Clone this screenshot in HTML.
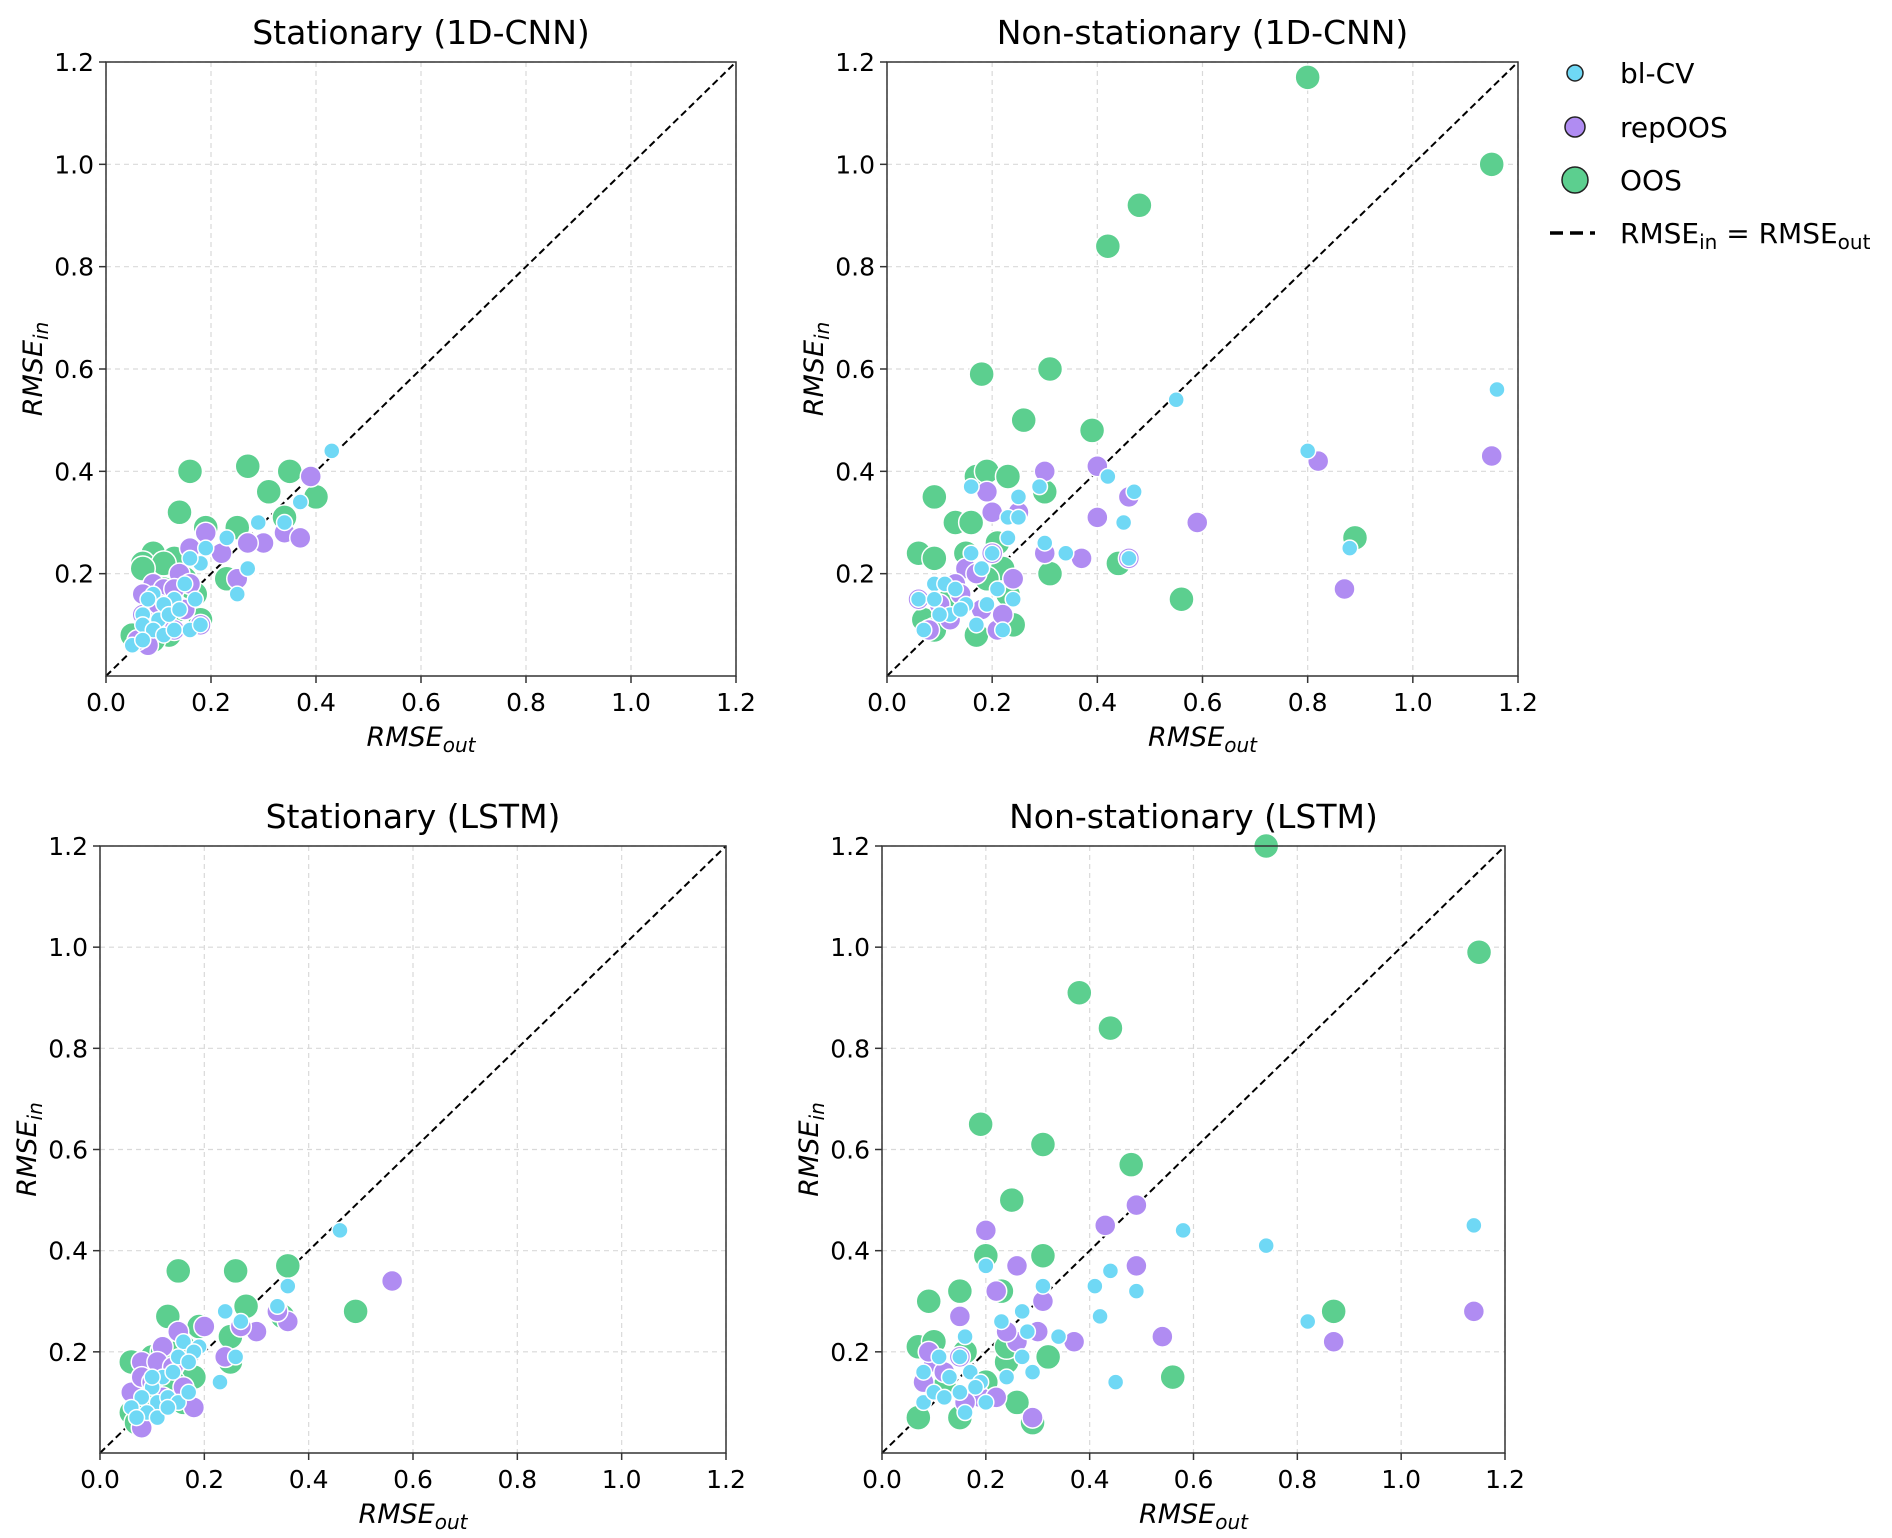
<!DOCTYPE html>
<html><head><meta charset="utf-8">
<style>
html,body{margin:0;padding:0;background:#fff;}
svg{display:block;font-family:"DejaVu Sans","Liberation Sans",sans-serif;}
</style></head>
<body>
<svg id="fig" width="1892" height="1538" viewBox="0 0 1892 1538" xmlns="http://www.w3.org/2000/svg">
<rect width="1892" height="1538" fill="#fff"/>
<g id="legend">
  <g>
    <circle cx="1575" cy="73" r="8" fill="#6fd8f5" stroke="#222" stroke-width="1.5"/>
    <text x="1620" y="83" font-size="28" fill="#000">bl-CV</text>
  </g>
  <g>
    <circle cx="1575" cy="127" r="10" fill="#b08cf2" stroke="#222" stroke-width="1.5"/>
    <text x="1620" y="137" font-size="28" fill="#000">repOOS</text>
  </g>
  <g>
    <circle cx="1575" cy="180" r="13" fill="#5ccf8f" stroke="#222" stroke-width="1.5"/>
    <text x="1620" y="190" font-size="28" fill="#000">OOS</text>
  </g>
  <g>
    <line x1="1550" y1="233" x2="1595" y2="233" stroke="#000" stroke-width="3.5" stroke-dasharray="13,7"/>
    <text x="1620" y="243" font-size="28" fill="#000">RMSE<tspan font-size="20" dy="6">in</tspan><tspan dy="-6"> = RMSE</tspan><tspan font-size="20" dy="6">out</tspan></text>
  </g>
</g>
</svg>
<script>
// ---- data: [x = RMSE_out, y = RMSE_in] ----
const panelTitles = ["Stationary (1D-CNN)", "Non-stationary (1D-CNN)", "Stationary (LSTM)", "Non-stationary (LSTM)"];
const xTicks = [0.0, 0.2, 0.4, 0.6, 0.8, 1.0, 1.2];
const yTicks = [0.2, 0.4, 0.6, 0.8, 1.0, 1.2];
const xTickLabels = ["0.0","0.2","0.4","0.6","0.8","1.0","1.2"];
const yTickLabels = ["0.2","0.4","0.6","0.8","1.0","1.2"];

const oosP1 = [[0.16,0.40],[0.27,0.41],[0.35,0.40],[0.31,0.36],[0.40,0.35],[0.14,0.32],[0.34,0.31],[0.19,0.29],[0.25,0.29],[0.09,0.24],[0.07,0.22],[0.13,0.23],[0.11,0.22],[0.07,0.21],[0.23,0.19],[0.17,0.16],[0.05,0.08],[0.08,0.10],[0.10,0.11],[0.12,0.08],[0.18,0.11],[0.15,0.19],[0.09,0.07],[0.14,0.13],[0.11,0.17]];
const repP1 = [[0.39,0.39],[0.34,0.28],[0.37,0.27],[0.30,0.26],[0.27,0.26],[0.19,0.28],[0.22,0.24],[0.25,0.19],[0.16,0.25],[0.14,0.20],[0.09,0.18],[0.07,0.16],[0.11,0.17],[0.16,0.18],[0.13,0.17],[0.07,0.12],[0.08,0.06],[0.06,0.07],[0.13,0.09],[0.18,0.10],[0.15,0.13],[0.10,0.14]];
const blcvP1 = [[0.43,0.44],[0.37,0.34],[0.34,0.30],[0.29,0.30],[0.23,0.27],[0.19,0.25],[0.18,0.22],[0.16,0.23],[0.27,0.21],[0.25,0.16],[0.15,0.18],[0.09,0.16],[0.17,0.15],[0.13,0.15],[0.11,0.14],[0.07,0.12],[0.10,0.11],[0.12,0.12],[0.14,0.13],[0.07,0.10],[0.09,0.09],[0.11,0.08],[0.05,0.06],[0.16,0.09],[0.18,0.10],[0.13,0.09],[0.07,0.07],[0.08,0.15]];

const oosP2 = [[0.80,1.17],[1.15,1.00],[0.48,0.92],[0.42,0.84],[0.18,0.59],[0.31,0.60],[0.26,0.50],[0.39,0.48],[0.17,0.39],[0.19,0.40],[0.23,0.39],[0.09,0.35],[0.30,0.36],[0.13,0.30],[0.16,0.30],[0.89,0.27],[0.06,0.24],[0.09,0.23],[0.15,0.24],[0.21,0.26],[0.31,0.20],[0.44,0.22],[0.56,0.15],[0.07,0.11],[0.09,0.09],[0.17,0.08],[0.24,0.10],[0.22,0.21],[0.12,0.15],[0.19,0.19],[0.23,0.16]];
const repP2 = [[0.40,0.41],[0.30,0.40],[0.19,0.36],[0.20,0.32],[0.25,0.32],[0.30,0.24],[0.40,0.31],[0.46,0.35],[0.59,0.30],[0.82,0.42],[1.15,0.43],[0.87,0.17],[0.37,0.23],[0.46,0.23],[0.20,0.24],[0.24,0.19],[0.15,0.21],[0.17,0.20],[0.13,0.18],[0.06,0.15],[0.10,0.14],[0.12,0.11],[0.18,0.13],[0.21,0.09],[0.08,0.09],[0.14,0.16],[0.22,0.12]];
const blcvP2 = [[1.16,0.56],[0.55,0.54],[0.80,0.44],[0.88,0.25],[0.42,0.39],[0.47,0.36],[0.29,0.37],[0.16,0.37],[0.25,0.35],[0.23,0.31],[0.25,0.31],[0.45,0.30],[0.30,0.26],[0.34,0.24],[0.46,0.23],[0.23,0.27],[0.20,0.24],[0.16,0.24],[0.18,0.21],[0.09,0.18],[0.11,0.18],[0.13,0.17],[0.21,0.17],[0.24,0.15],[0.06,0.15],[0.15,0.14],[0.19,0.14],[0.09,0.15],[0.12,0.12],[0.17,0.10],[0.22,0.09],[0.07,0.09],[0.10,0.12],[0.14,0.13]];

const oosP3 = [[0.15,0.36],[0.26,0.36],[0.36,0.37],[0.49,0.28],[0.28,0.29],[0.13,0.27],[0.19,0.25],[0.25,0.23],[0.06,0.18],[0.10,0.19],[0.12,0.20],[0.16,0.21],[0.25,0.18],[0.18,0.15],[0.06,0.08],[0.09,0.10],[0.13,0.12],[0.07,0.06],[0.16,0.10],[0.11,0.16],[0.14,0.14],[0.35,0.27]];
const repP3 = [[0.56,0.34],[0.36,0.26],[0.34,0.28],[0.30,0.24],[0.27,0.25],[0.20,0.25],[0.15,0.24],[0.24,0.19],[0.12,0.21],[0.08,0.18],[0.11,0.18],[0.14,0.17],[0.06,0.12],[0.08,0.15],[0.10,0.14],[0.18,0.09],[0.08,0.05],[0.12,0.11],[0.16,0.13]];
const blcvP3 = [[0.46,0.44],[0.36,0.33],[0.34,0.29],[0.27,0.26],[0.24,0.28],[0.26,0.19],[0.23,0.14],[0.19,0.21],[0.16,0.22],[0.18,0.20],[0.15,0.19],[0.17,0.18],[0.12,0.15],[0.14,0.16],[0.10,0.13],[0.08,0.11],[0.11,0.10],[0.06,0.09],[0.09,0.08],[0.13,0.11],[0.15,0.10],[0.07,0.07],[0.11,0.07],[0.13,0.09],[0.17,0.12],[0.10,0.15]];

const oosP4 = [[0.74,1.20],[1.15,0.99],[0.38,0.91],[0.44,0.84],[0.19,0.65],[0.31,0.61],[0.48,0.57],[0.25,0.50],[0.20,0.39],[0.31,0.39],[0.15,0.32],[0.23,0.32],[0.09,0.30],[0.87,0.28],[0.07,0.21],[0.10,0.22],[0.16,0.20],[0.24,0.18],[0.32,0.19],[0.56,0.15],[0.07,0.07],[0.15,0.07],[0.26,0.10],[0.29,0.06],[0.20,0.14],[0.24,0.21],[0.12,0.13]];
const repP4 = [[0.49,0.49],[0.43,0.45],[0.20,0.44],[0.26,0.37],[0.49,0.37],[0.22,0.32],[0.31,0.30],[0.15,0.27],[0.87,0.22],[1.14,0.28],[0.54,0.23],[0.37,0.22],[0.30,0.24],[0.26,0.22],[0.24,0.24],[0.08,0.14],[0.10,0.18],[0.12,0.16],[0.15,0.19],[0.19,0.11],[0.22,0.11],[0.29,0.07],[0.16,0.10],[0.09,0.20]];
const blcvP4 = [[1.14,0.45],[0.58,0.44],[0.74,0.41],[0.44,0.36],[0.49,0.32],[0.41,0.33],[0.31,0.33],[0.20,0.37],[0.27,0.28],[0.42,0.27],[0.82,0.26],[0.34,0.23],[0.28,0.24],[0.23,0.26],[0.29,0.16],[0.27,0.19],[0.24,0.15],[0.45,0.14],[0.16,0.23],[0.15,0.19],[0.17,0.16],[0.19,0.14],[0.11,0.19],[0.08,0.16],[0.13,0.15],[0.15,0.12],[0.08,0.10],[0.10,0.12],[0.16,0.08],[0.20,0.10],[0.12,0.11],[0.18,0.13]];

const oosData = [oosP1, oosP2, oosP3, oosP4];
const repData = [repP1, repP2, repP3, repP4];
const blcvData = [blcvP1, blcvP2, blcvP3, blcvP4];

// ---- layout ----
const NS = "http://www.w3.org/2000/svg";
const svg = document.getElementById("fig");
const legend = document.getElementById("legend");
const boxes = [
  {l:106, r:736, t:62, b:676},
  {l:887, r:1518, t:62, b:676},
  {l:100, r:726, t:846, b:1453},
  {l:882, r:1505, t:846, b:1453}
];
function mk(tag, attrs, parent){
  const e = document.createElementNS(NS, tag);
  for (const k in attrs) e.setAttribute(k, attrs[k]);
  parent.appendChild(e);
  return e;
}
const panelNames = ["stationary-cnn","nonstationary-cnn","stationary-lstm","nonstationary-lstm"];
boxes.forEach((bx, i) => {
  const xs = v => bx.l + (v / 1.2) * (bx.r - bx.l);
  const ys = v => bx.b - (v / 1.2) * (bx.b - bx.t);
  const g = mk("g", {}, svg);
  
  
  svg.insertBefore(g, legend);
  xTicks.forEach(t => {
    const ln = mk("line", {x1:xs(t), x2:xs(t), y1:bx.t, y2:bx.b, stroke:"#d9d9d9", "stroke-width":1.2, "stroke-dasharray":"5,4"}, g);
    
    
  });
  yTicks.forEach(t => {
    const ln = mk("line", {x1:bx.l, x2:bx.r, y1:ys(t), y2:ys(t), stroke:"#d9d9d9", "stroke-width":1.2, "stroke-dasharray":"5,4"}, g);
    
    
  });
  const d = mk("line", {x1:xs(0), y1:ys(0), x2:xs(1.2), y2:ys(1.2), stroke:"#000", "stroke-width":2, "stroke-dasharray":"7,4"}, g);
  
  
  const series = [
    {data:oosData[i], r:12.5, fill:"#5ccf8f", name:"oos-point"},
    {data:repData[i], r:10.5, fill:"#b08cf2", name:"repoos-point"},
    {data:blcvData[i], r:8, fill:"#6fd8f5", name:"blcv-point"}
  ];
  series.forEach(s => {
    s.data.forEach(p => {
      const c = mk("circle", {cx:xs(p[0]), cy:ys(p[1]), r:s.r, fill:s.fill, stroke:"#fff", "stroke-width":1.5}, g);
      
      
    });
  });
  const fr = mk("rect", {x:bx.l, y:bx.t, width:bx.r-bx.l, height:bx.b-bx.t, fill:"none", stroke:"#333", "stroke-width":1.5}, g);
  
  
  xTicks.forEach((t, k) => {
    mk("line", {x1:xs(t), x2:xs(t), y1:bx.b, y2:bx.b+7, stroke:"#333", "stroke-width":1.5}, g);
    const tx = mk("text", {x:xs(t), y:bx.b+35, "font-size":25, "text-anchor":"middle", fill:"#000"}, g);
    tx.textContent = xTickLabels[k];
    
    
  });
  yTicks.forEach((t, k) => {
    mk("line", {x1:bx.l-7, x2:bx.l, y1:ys(t), y2:ys(t), stroke:"#333", "stroke-width":1.5}, g);
    const tx = mk("text", {x:bx.l-12, y:ys(t)+9, "font-size":25, "text-anchor":"end", fill:"#000"}, g);
    tx.textContent = yTickLabels[k];
    
    
  });
  const ti = mk("text", {x:(bx.l+bx.r)/2, y:bx.t-18, "font-size":33, "text-anchor":"middle", fill:"#000"}, g);
  ti.textContent = panelTitles[i];
  
  
  const xl = mk("text", {x:(bx.l+bx.r)/2, y:bx.b+70, "font-size":27, "text-anchor":"middle", "font-style":"italic", fill:"#000"}, g);
  xl.innerHTML = 'RMSE<tspan font-size="20" dy="6">out</tspan>';
  
  
  const cy = (bx.t+bx.b)/2;
  const yl = mk("text", {x:bx.l-64, y:cy, "font-size":27, "text-anchor":"middle", "font-style":"italic", fill:"#000", transform:`rotate(-90 ${bx.l-64} ${cy})`}, g);
  yl.innerHTML = 'RMSE<tspan font-size="20" dy="6">in</tspan>';
  
  
});
</script>
</body></html>
